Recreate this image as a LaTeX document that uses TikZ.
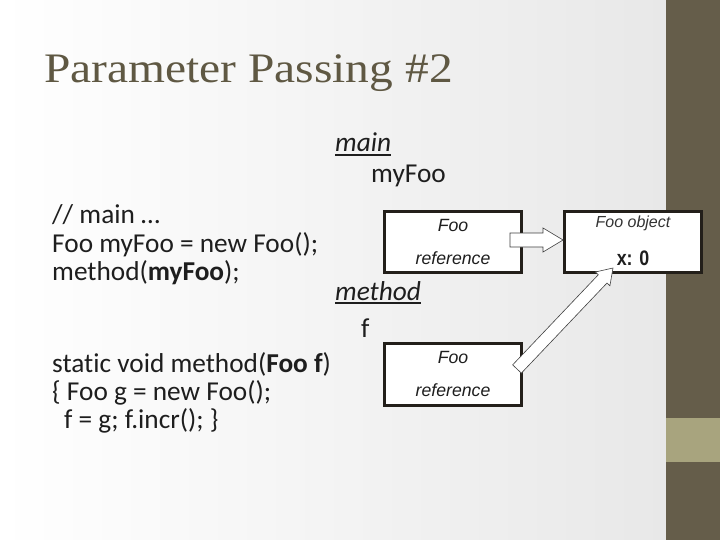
\documentclass[tikz,border=0pt]{standalone}
\usepackage{fontspec}
\setmainfont[Ligatures=NoCommon]{Carlito}
\newfontfamily\titlefont[FakeStretch=1.13]{Liberation Serif}
\newfontfamily\arialfont{Liberation Sans}
\newfontfamily\arialnarrow[FakeStretch=0.85]{Liberation Sans}
\usetikzlibrary{calc}
\definecolor{stripc}{HTML}{655D4A}
\definecolor{bandc}{HTML}{A8A47E}
\definecolor{titlec}{HTML}{5F5843}
\definecolor{txt}{HTML}{1E1E1E}
\definecolor{boxline}{HTML}{231F1A}
\tikzset{
  codetext/.style={anchor=base west, inner sep=0pt, text=txt, font=\fontsize{27.3}{32}\selectfont},
  refbox/.style={draw=boxline, line width=3pt, fill=white, minimum width=137pt, inner sep=0pt},
  boxtext/.style={inner sep=0pt, text=txt, font=\arialfont\itshape\fontsize{17.7}{21}\selectfont},
  uline/.style={line width=1.2pt, draw=txt},
  blockarrow/.style={fill=white, draw=black!75, line width=0.6pt},
}
\newcommand{\blockarr}[5]{%
  \coordinate (hb) at ($(#2)!#5!(#1)$);
  \draw[blockarrow] ($(#1)!#3!90:(#2)$) -- ($(hb)!#3!90:(#2)$) -- ($(hb)!#4!90:(#2)$)
    -- (#2) -- ($(hb)!#4!-90:(#2)$) -- ($(hb)!#3!-90:(#2)$) -- ($(#1)!#3!-90:(#2)$) -- cycle;
}
\begin{document}
\begin{tikzpicture}[x=1pt, y=-1pt]
\useasboundingbox (0,0) rectangle (720,540);
\shade[left color=white, right color=black!9] (0,0) rectangle (666,540);
\fill[stripc] (666,0) rectangle (720,540);
\fill[bandc] (666,418) rectangle (720,462);

\node[anchor=base west, inner sep=0pt, text=titlec, font=\titlefont\fontsize{42}{48}\selectfont] (title) at (44,83) {Parameter Passing \#2};

\node[codetext] (l1) at (52,223) {// main …};
\node[codetext] (l2) at (52,252) {Foo myFoo = new Foo();};
\node[codetext] (l3) at (52,280) {method(\textbf{myFoo});};
\node[codetext] (l4) at (52,372) {static void method(\textbf{Foo f})};
\node[codetext] (l5) at (52,400) {\{ Foo g = new Foo();};
\node[codetext] (l6) at (64,428) {f = g; f.incr(); \}};

\node[codetext, font=\itshape\fontsize{27.3}{32}\selectfont] (mainlbl) at (335,152) {main};
\draw[uline] ($(mainlbl.base west)+(0,3)$) -- ($(mainlbl.base east)+(0,3)$);
\node[codetext] (myfoo) at (371,183) {myFoo};
\node[codetext, font=\itshape\fontsize{27.3}{32}\selectfont] (methodlbl) at (335,300) {method};
\draw[uline] ($(methodlbl.base west)+(0,3)$) -- ($(methodlbl.base east)+(0,3)$);
\node[codetext] (flbl) at (361,337) {f};

\node[refbox, minimum height=61pt] (box1) at (453,242) {};
\node[refbox, minimum height=61pt] (box2) at (633,242) {};
\node[refbox, minimum height=62pt] (box3) at (453,374.5) {};

\node[boxtext] (b1a) at (453,225) {Foo};
\node[boxtext] (b1b) at (453,258) {reference};
\node[boxtext] (b3a) at (453,357) {Foo};
\node[boxtext] (b3b) at (453,390) {reference};
\node[inner sep=0pt, text=black!80, font=\arialfont\itshape\fontsize{16}{19}\selectfont] (b2a) at (633,223) {Foo object};
\node[inner sep=0pt, text=txt, font=\arialnarrow\bfseries\fontsize{21}{24}\selectfont] (b2b) at (633,258) {x: 0};

\coordinate (a1t) at (510,240);
\coordinate (a1h) at (563,240);
\coordinate (a2t) at (517,369);
\coordinate (a2h) at (613,268);
\blockarr{a1t}{a1h}{7pt}{12pt}{20pt}
\blockarr{a2t}{a2h}{6pt}{10pt}{15pt}
\end{tikzpicture}
\end{document}
